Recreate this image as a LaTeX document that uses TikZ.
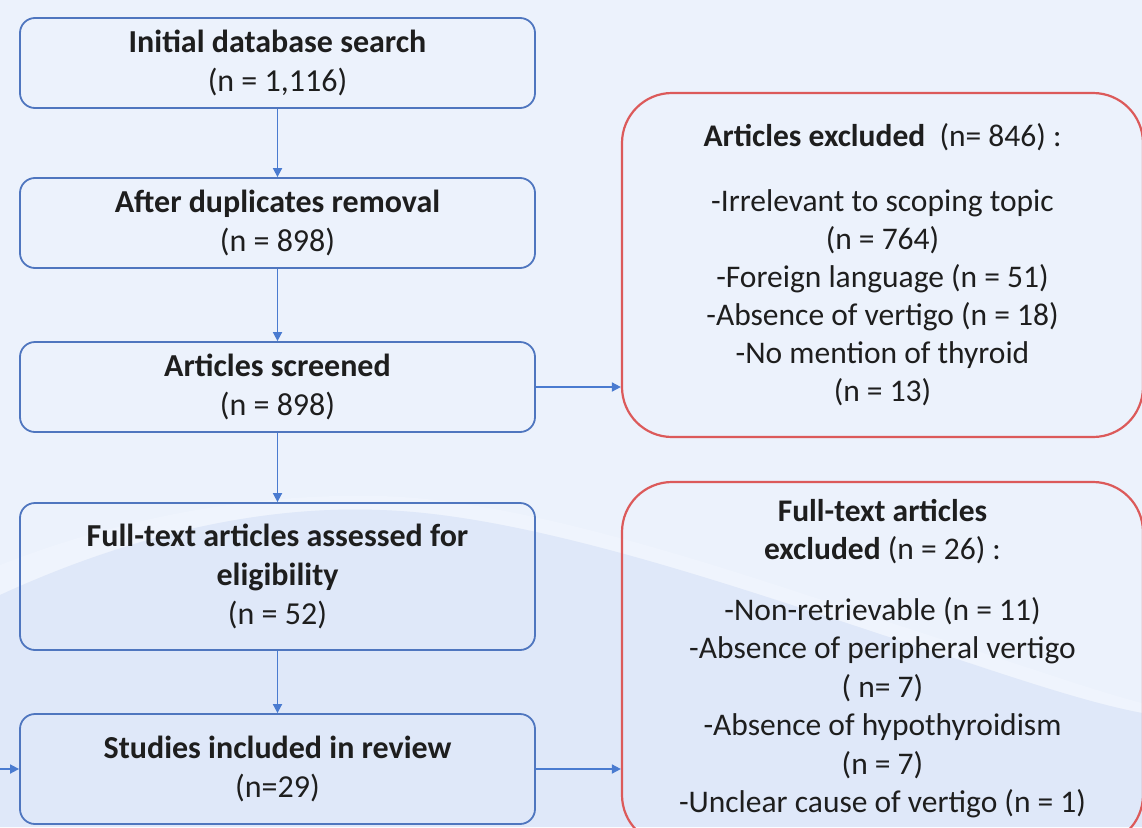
\documentclass[tikz,border=0pt]{standalone}
\usepackage{fontspec}
\setmainfont{Carlito}
\usetikzlibrary{arrows.meta}
\definecolor{bgtop}{HTML}{ECF2FC}
\definecolor{bgband}{HTML}{EFF4FD}
\definecolor{bgwave}{HTML}{DFE8F9}
\definecolor{boxblue}{HTML}{4F76BF}
\definecolor{arrblue}{HTML}{4A7BD0}
\definecolor{boxred}{HTML}{DC5A5A}
\definecolor{txt}{HTML}{1E1E1E}
\tikzset{
  bluebox/.style={draw=boxblue, line width=1.8pt, rounded corners=15pt,
    minimum width=515pt, align=center, text=txt, inner sep=0pt},
  redbox/.style={draw=boxred, line width=2.2pt, rounded corners=50pt,
    minimum width=521pt},
  txtnode/.style={align=center, text=txt, inner sep=0pt},
  flow/.style={draw=arrblue, line width=1.7pt, -{Triangle[length=9pt,width=9pt]}},
}
\begin{document}
\begin{tikzpicture}[x=1pt,y=-1pt,
  every node/.style={font=\fontsize{32}{39}\selectfont}]
\useasboundingbox (0,0) rectangle (1142,827);
\fill[bgtop] (0,0) rectangle (1142,827);
\fill[bgband] (0,565) .. controls (120,518) and (250,493) .. (380,496)
  .. controls (550,500) and (800,595) .. (960,645)
  .. controls (1050,675) and (1100,692) .. (1142,703)
  -- (1142,713) .. controls (1100,705) and (1050,690) .. (960,660)
  .. controls (800,610) and (550,515) .. (380,510)
  .. controls (250,505) and (120,540) .. (0,595) -- cycle;
\fill[bgwave] (0,595) .. controls (120,540) and (250,505) .. (380,510)
  .. controls (550,515) and (800,610) .. (960,660)
  .. controls (1050,690) and (1100,705) .. (1142,713)
  -- (1142,827) -- (0,827) -- cycle;

\node[bluebox, minimum height=90pt] (b1) at (277.5,63)
  {\textbf{Initial database search}\\(n = 1,116)};
\node[bluebox, minimum height=90pt] (b2) at (277.5,223)
  {\textbf{After duplicates removal}\\(n = 898)};
\node[bluebox, minimum height=90pt] (b3) at (277.5,387)
  {\textbf{Articles screened}\\(n = 898)};
\node[bluebox, minimum height=147pt] (b4) at (277.5,576.5)
  {\textbf{Full-text articles assessed for}\\\textbf{eligibility}\\(n = 52)};
\node[bluebox, minimum height=110pt] (b5) at (277.5,769)
  {\textbf{Studies included in review}\\(n=29)};

\node[redbox, minimum height=344pt] (e1) at (882.5,265) {};
\node[txtnode, font=\fontsize{31.5}{38}\selectfont] (e1t) at (882.5,265)
  {\textbf{Articles excluded}\ \ (n= 846) :\\[27pt]
   -Irrelevant to scoping topic\\(n = 764)\\-Foreign language (n = 51)\\
   -Absence of vertigo (n = 18)\\-No mention of thyroid\\(n = 13)};

\node[redbox, minimum height=363pt] (e2) at (882.5,663.5) {};
\node[txtnode, font=\fontsize{31.5}{38.5}\selectfont] (e2t) at (882.5,658.5)
  {\textbf{Full-text articles}\\\textbf{excluded} (n = 26) :\\[22pt]
   -Non-retrievable (n = 11)\\-Absence of peripheral vertigo\\( n= 7)\\
   -Absence of hypothyroidism\\(n = 7)\\-Unclear cause of vertigo (n = 1)};

\coordinate (lin) at (0,769);

\draw[flow] (b1) -- (b2);
\draw[flow] (b2) -- (b3);
\draw[flow] (b3) -- (b4);
\draw[flow] (b4) -- (b5);
\draw[flow] (b3.east) -- (b3.east -| e1.west);
\draw[flow] (b5.east) -- (b5.east -| e2.west);
\draw[flow] (lin) -- (b5.west);
\end{tikzpicture}
\end{document}
